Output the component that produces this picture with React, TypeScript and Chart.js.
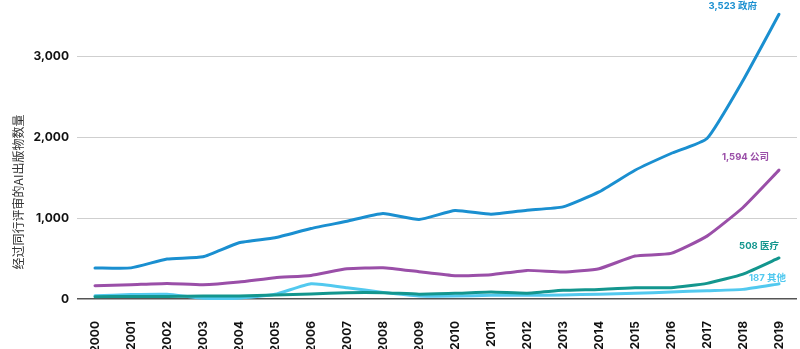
import React, { useEffect, useRef } from 'react';
import { Chart, registerables } from 'chart.js';

Chart.register(...registerables);

const years = ['2000', '2001', '2002', '2003', '2004', '2005', '2006', '2007', '2008', '2009', '2010', '2011', '2012', '2013', '2014', '2015', '2016', '2017', '2018', '2019'];
const government = [385, 385, 494, 522, 695, 757, 872, 962, 1058, 984, 1095, 1049, 1099, 1140, 1325, 1593, 1800, 1986, 2704, 3523];
const company = [165, 177, 193, 177, 210, 264, 292, 374, 387, 337, 288, 300, 354, 333, 374, 531, 564, 778, 1132, 1594];
const medical = [29, 30, 32, 37, 37, 49, 62, 78, 78, 60, 70, 86, 72, 107, 119, 140, 140, 193, 308, 508];
const other = [40, 55, 58, 8, 10, 58, 189, 140, 82, 37, 37, 45, 45, 49, 60, 70, 86, 103, 119, 187];
const yTicks = [0, 1000, 2000, 3000];
const seriesNames = ['政府', '公司', '医疗', '其他'];
const yTitle = '经过同行评审的AI出版物数量';

const colors = ['#1a8fd0', '#9a4fa8', '#13968e', '#52c9ef'];
const labelOffsets = [[-22, -8], [-10, -13], [0, -12], [7, -6]];

const endLabels = {
  id: 'endLabels',
  afterDatasetsDraw(chart: any) {
    const ctx = chart.ctx;
    ctx.save();
    ctx.font = 'bold 9.5px Inter, "Noto Sans CJK SC", sans-serif';
    ctx.textAlign = 'right';
    ctx.textBaseline = 'middle';
    chart.data.datasets.forEach((ds: any, i: number) => {
      const meta = chart.getDatasetMeta(i);
      const pt = meta.data[meta.data.length - 1];
      const v = ds.data[ds.data.length - 1];
      const [dx, dy] = labelOffsets[i];
      ctx.fillStyle = colors[i];
      ctx.fillText(v.toLocaleString('en-US') + ' ' + seriesNames[i], pt.x + dx, pt.y + dy);
    });
    ctx.restore();
  },
};

const yTitlePlugin = {
  id: 'yTitlePlugin',
  afterDraw(chart: any) {
    const ctx = chart.ctx;
    ctx.save();
    ctx.translate(18, 192);
    ctx.rotate(-Math.PI / 2);
    ctx.font = '12px "Noto Sans CJK SC", sans-serif';
    ctx.fillStyle = '#333';
    ctx.textAlign = 'center';
    ctx.textBaseline = 'middle';
    ctx.fillText(yTitle, 0, 0);
    ctx.restore();
  },
};

export default function App() {
  const ref = useRef<HTMLCanvasElement>(null);
  useEffect(() => {
    document.body.style.margin = '0';
    const seriesData = [government, company, medical, other];
    const chart = new Chart(ref.current!, {
      type: 'line',
      data: {
        labels: years,
        datasets: seriesData.map((d, i) => ({
          label: seriesNames[i],
          data: d,
          borderColor: colors[i],
          backgroundColor: colors[i],
          borderWidth: 3,
          pointRadius: 0,
          tension: 0.15,
          clip: 6,
          borderCapStyle: 'round' as const,
          borderJoinStyle: 'round' as const,
          order: i,
        })),
      },
      options: {
        animation: false,
        responsive: false,
        maintainAspectRatio: false,
        layout: { padding: { left: 0, right: 3, top: 8, bottom: 0 } },
        plugins: { legend: { display: false }, tooltip: { enabled: false } },
        scales: {
          x: {
            type: 'category',
            offset: true,
            grid: { display: false },
            border: { display: false },
            ticks: {
              minRotation: 90,
              maxRotation: 90,
              autoSkip: false,
              padding: 14,
              color: '#111',
              font: { family: 'Inter', size: 12, weight: 'bold' },
            },
            afterFit(scale: any) {
              scale.height = 50;
              scale.paddingLeft = 0;
              scale.paddingRight = 0;
            },
          },
          y: {
            min: 0,
            max: 3600,
            afterBuildTicks(axis: any) { axis.ticks = yTicks.map((v) => ({ value: v })); },
            grid: {
              drawTicks: false,
              color: (c: any) => (c.tick && c.tick.value === 0 ? '#555' : '#cfcfcf'),
              lineWidth: (c: any) => (c.tick && c.tick.value === 0 ? 1.5 : 1),
            },
            border: { display: false },
            ticks: {
              padding: 8,
              color: '#111',
              font: { family: 'Inter', size: 12, weight: 'bold' },
              callback: (v: any) => Number(v).toLocaleString('en-US'),
            },
            afterFit(scale: any) {
              scale.width = 77;
              scale.paddingTop = 0;
              scale.paddingBottom = 0;
            },
          },
        },
      },
      plugins: [endLabels, yTitlePlugin],
    });
    return () => chart.destroy();
  }, []);
  return (
    <div style={{ width: 800, height: 349 }}>
      <canvas ref={ref} width={800} height={349} />
    </div>
  );
}
